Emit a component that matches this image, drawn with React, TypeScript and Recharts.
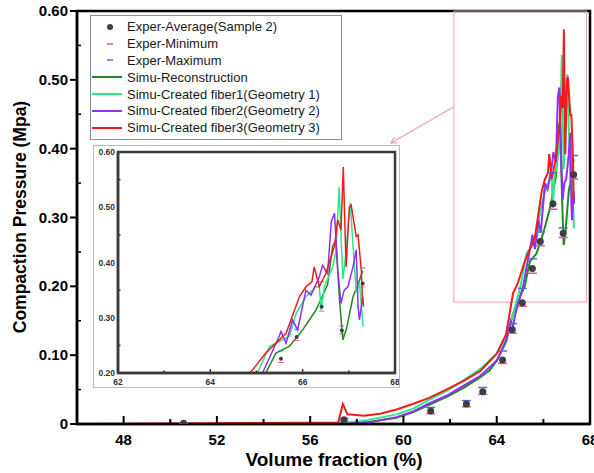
import React from "react";
import {
  ComposedChart, Line, Scatter, XAxis, YAxis, ReferenceArea, ReferenceLine, Legend,
} from "recharts";

const FONT = "'Liberation Sans', Arial, sans-serif";

// experimental points (sample 2)
const expX = [50.57, 57.45, 61.17, 62.7, 63.4, 64.25, 64.67, 65.1, 65.53, 65.87, 66.41, 66.85, 67.3];
const expAvg = [0.001, 0.006, 0.019, 0.029, 0.047, 0.093, 0.137, 0.176, 0.226, 0.265, 0.32, 0.277, 0.362];
const expMin = [0.0, 0.004, 0.015, 0.025, 0.043, 0.088, 0.132, 0.171, 0.219, 0.259, 0.312, 0.271, 0.356];
const expMax = [0.002, 0.008, 0.024, 0.034, 0.053, 0.106, 0.146, 0.197, 0.24, 0.279, 0.365, 0.285, 0.39];

// simulations
const reconX = [46.6, 57.0, 57.5, 58.5, 59.7, 60.4, 61.1, 61.9, 62.6, 63.3, 63.7, 64.0, 64.4, 64.7, 65.0, 65.2, 65.42, 65.71, 66.0, 66.29, 66.54, 66.65, 66.72, 66.8, 66.87, 66.95, 67.09, 67.2, 67.3];
const reconY = [0, 0, 0.001, 0.003, 0.009, 0.017, 0.028, 0.04, 0.053, 0.068, 0.078, 0.092, 0.12, 0.16, 0.185, 0.2, 0.236, 0.248, 0.278, 0.314, 0.36, 0.43, 0.44, 0.33, 0.26, 0.28, 0.338, 0.36, 0.385];

const fiber1X = [46.6, 57.0, 57.5, 58.5, 59.7, 60.4, 61.1, 61.9, 62.6, 63.3, 64.0, 64.4, 64.7, 65.02, 65.28, 65.42, 65.71, 65.86, 66.07, 66.29, 66.36, 66.4, 66.47, 66.65, 66.72, 66.79, 66.87, 66.92, 67.03, 67.16, 67.23, 67.31];
const fiber1Y = [0, 0, 0.002, 0.006, 0.014, 0.022, 0.035, 0.049, 0.064, 0.08, 0.102, 0.125, 0.16, 0.2, 0.248, 0.254, 0.266, 0.308, 0.338, 0.356, 0.356, 0.314, 0.356, 0.392, 0.42, 0.536, 0.37, 0.404, 0.508, 0.346, 0.362, 0.284];

const fiber2X = [46.6, 57.5, 58.5, 59.7, 60.4, 61.1, 61.9, 62.6, 63.3, 64.0, 64.4, 64.6, 64.7, 64.8, 65.13, 65.49, 65.53, 65.64, 65.78, 65.89, 66.07, 66.18, 66.36, 66.43, 66.54, 66.62, 66.69, 66.76, 66.83, 66.9, 66.98, 67.09, 67.16, 67.2, 67.23, 67.3, 67.32];
const fiber2Y = [0, 0, 0.002, 0.01, 0.018, 0.03, 0.042, 0.056, 0.07, 0.092, 0.12, 0.15, 0.142, 0.16, 0.2, 0.266, 0.275, 0.254, 0.296, 0.278, 0.35, 0.341, 0.374, 0.395, 0.38, 0.474, 0.489, 0.386, 0.326, 0.35, 0.356, 0.392, 0.423, 0.32, 0.296, 0.338, 0.32];

const fiber3X = [46.6, 57.2, 57.4, 57.6, 58.3, 59.0, 59.7, 60.4, 61.1, 61.9, 62.6, 63.3, 64.0, 64.4, 64.7, 64.91, 65.2, 65.64, 65.93, 66.07, 66.2, 66.25, 66.36, 66.5, 66.69, 66.76, 66.83, 66.88, 66.94, 67.01, 67.05, 67.16, 67.2, 67.27, 67.3];
const fiber3Y = [0, 0.002, 0.029, 0.014, 0.012, 0.015, 0.021, 0.029, 0.038, 0.051, 0.063, 0.077, 0.102, 0.13, 0.19, 0.205, 0.236, 0.272, 0.338, 0.356, 0.365, 0.392, 0.356, 0.38, 0.43, 0.477, 0.459, 0.573, 0.392, 0.5, 0.504, 0.447, 0.45, 0.386, 0.326];

const xTicks = [48, 50, 52, 54, 56, 58, 60, 62, 64, 66, 68];
const yTicks = [0, 0.05, 0.1, 0.15, 0.2, 0.25, 0.3, 0.35, 0.4, 0.45, 0.5, 0.55, 0.6];
const insetXTicks = [62, 63, 64, 65, 66, 67, 68];
const insetYTicks = [0.2, 0.25, 0.3, 0.35, 0.4, 0.45, 0.5, 0.55, 0.6];

const pts = (xs: number[], ys: number[]) => xs.map((x, i) => ({ x, y: ys[i] }));

const avgPts = pts(expX, expAvg);
const minPts = pts(expX, expMin);
const maxPts = pts(expX, expMax);

const SIM = [
  { name: "Simu-Reconstruction", color: "#1f8a22", data: pts(reconX, reconY) },
  { name: "Simu-Created fiber1(Geometry 1)", color: "#2ee58c", data: pts(fiber1X, fiber1Y) },
  { name: "Simu-Created fiber2(Geometry 2)", color: "#9030f0", data: pts(fiber2X, fiber2Y) },
  { name: "Simu-Created fiber3(Geometry 3)", color: "#ee1c1c", data: pts(fiber3X, fiber3Y) },
];

const MIN_COLOR = "#e2559e";
const MAX_COLOR = "#5b6ce2";
const DOT_COLOR = "#3f3f3f";
const PINK = "#f0a4ae";

const legendItems = [
  { name: "Exper-Average(Sample 2)", kind: "dot", color: DOT_COLOR },
  { name: "Exper-Minimum", kind: "dash", color: MIN_COLOR },
  { name: "Exper-Maximum", kind: "dash", color: MAX_COLOR },
  ...SIM.map((s) => ({ name: s.name, kind: "line", color: s.color })),
];

const renderLegend = () => (
  <div style={{ border: "1px solid #8c8c8c", background: "#fff", padding: "2.5px 8px 2.5px 0", fontFamily: FONT, fontSize: 13, color: "#1a1a1a" }}>
    {legendItems.map((it) => (
      <div key={it.name} style={{ display: "flex", alignItems: "center", height: 16.8 }}>
        <svg width={32} height={10}>
          {it.kind === "dot" && <circle cx={19} cy={5} r={3} fill={it.color} />}
          {it.kind === "dash" && <line x1={16} x2={22} y1={5} y2={5} stroke={it.color} strokeWidth={1.5} />}
          {it.kind === "line" && <line x1={1} x2={31} y1={5} y2={5} stroke={it.color} strokeWidth={2} />}
        </svg>
        <span style={{ marginLeft: 4, whiteSpace: "nowrap" }}>{it.name}</span>
      </div>
    ))}
  </div>
);

const capShape = (color: string, w: number, sw: number) => (p: any) => (
  <line x1={p.cx - w / 2} x2={p.cx + w / 2} y1={p.cy} y2={p.cy} stroke={color} strokeWidth={sw} />
);
const dotShape = (r: number) => (p: any) => <circle cx={p.cx} cy={p.cy} r={r} fill={DOT_COLOR} />;

const MainXTick = (props: any) => {
  const { x, y, payload } = props;
  const v = payload.value;
  const major = v % 4 === 0;
  return (
    <g>
      <line x1={x} x2={x} y1={y} y2={y - (major ? 8 : 5)} stroke="#000" strokeWidth={2} />
      {major && (
        <text x={x} y={y + 21} textAnchor="middle" fontSize={15} fontWeight="bold" fontFamily={FONT} fill="#000">{v}</text>
      )}
    </g>
  );
};

const MainYTick = (props: any) => {
  const { x, y, payload } = props;
  const v = payload.value;
  const major = Math.round(v * 100) % 10 === 0;
  return (
    <g>
      {major
        ? <line x1={x - 7} x2={x} y1={y} y2={y} stroke="#000" strokeWidth={2} />
        : <line x1={x} x2={x + 4} y1={y} y2={y} stroke="#000" strokeWidth={1.5} />}
      {major && (
        <text x={x - 9} y={y + 5} textAnchor="end" fontSize={15} fontWeight="bold" fontFamily={FONT} fill="#000">
          {v === 0 ? "0" : v.toFixed(2)}
        </text>
      )}
    </g>
  );
};

const InsetXTick = (props: any) => {
  const { x, y, payload } = props;
  const v = payload.value;
  const even = v % 2 === 0;
  return (
    <g>
      {v > 62 && v < 68 && <line x1={x} x2={x} y1={y} y2={y - (even ? 4 : 2.5)} stroke="#333" strokeWidth={1.5} />}
      {even && (
        <text x={x} y={y + 12} textAnchor="middle" fontSize={8.5} fontWeight="bold" fontFamily={FONT} fill="#333">{v}</text>
      )}
    </g>
  );
};

const InsetYTick = (props: any) => {
  const { x, y, payload } = props;
  const v = payload.value;
  const major = Math.round(v * 100) % 10 === 0;
  return (
    <g>
      {!major && <line x1={x} x2={x + 2.5} y1={y} y2={y} stroke="#333" strokeWidth={1.5} />}
      {major && (
        <text x={x - 3} y={y + 3} textAnchor="end" fontSize={8.5} fontWeight="bold" fontFamily={FONT} fill="#333">{v.toFixed(2)}</text>
      )}
    </g>
  );
};

const ArrowShape = (p: any) => {
  const { x1, y1, x2, y2 } = p;
  const a = Math.atan2(y1 - y2, x1 - x2);
  const L = 7;
  return (
    <g stroke={PINK} strokeWidth={1.2} fill="none">
      <line x1={x1} y1={y1} x2={x2} y2={y2} />
      <line x1={x2} y1={y2} x2={x2 + L * Math.cos(a + 0.45)} y2={y2 + L * Math.sin(a + 0.45)} />
      <line x1={x2} y1={y2} x2={x2 + L * Math.cos(a - 0.45)} y2={y2 + L * Math.sin(a - 0.45)} />
    </g>
  );
};

const Inset = () => (
  <div style={{ position: "absolute", left: 93, top: 145, width: 307, height: 243, border: `1px solid ${PINK}`, boxSizing: "border-box" }}>
    <ComposedChart width={305} height={241} margin={{ top: 6, right: 4, bottom: 0, left: 0 }}>
      <XAxis type="number" dataKey="x" domain={[62, 68]} ticks={insetXTicks} interval={0} allowDataOverflow
        tickSize={0} tickMargin={0} tickLine={false} axisLine={{ stroke: "#3a3a3a", strokeWidth: 2.5 }} tick={<InsetXTick />} height={14} />
      <YAxis type="number" domain={[0.2, 0.6]} ticks={insetYTicks} interval={0} allowDataOverflow
        tickSize={0} tickMargin={0} tickLine={false} axisLine={{ stroke: "#3a3a3a", strokeWidth: 2.5 }} tick={<InsetYTick />} width={24} />
      <ReferenceArea x1={62} x2={68} y1={0.2} y2={0.6} stroke="#3a3a3a" strokeWidth={2.5} fill="none" fillOpacity={0} />
      {SIM.map((s) => (
        <Line key={s.name} data={s.data} dataKey="y" type="linear" stroke={s.color} strokeWidth={1.5} dot={false} isAnimationActive={false} />
      ))}
      <Scatter data={maxPts} dataKey="y" shape={capShape(MAX_COLOR, 5, 1)} isAnimationActive={false} />
      <Scatter data={minPts} dataKey="y" shape={capShape(MIN_COLOR, 5, 1)} isAnimationActive={false} />
      <Scatter data={avgPts} dataKey="y" shape={dotShape(2)} isAnimationActive={false} />
    </ComposedChart>
  </div>
);

export default function App() {
  return (
    <div style={{ position: "absolute", left: 0, top: 0, width: 594, height: 473, background: "#fff" }}>
      <ComposedChart width={594} height={473} margin={{ top: 11, right: 4, bottom: 0, left: 0 }}>
        <XAxis type="number" dataKey="x" domain={[46, 68]} ticks={xTicks} interval={0} allowDataOverflow
          tickSize={0} tickMargin={0} tickLine={false} axisLine={{ stroke: "#000", strokeWidth: 2.5 }} tick={<MainXTick />} height={49} />
        <YAxis type="number" domain={[0, 0.6]} ticks={yTicks} interval={0} allowDataOverflow
          tickSize={0} tickMargin={0} tickLine={false} axisLine={{ stroke: "#000", strokeWidth: 2.5 }} tick={<MainYTick />} width={77} />
        <ReferenceArea x1={46} x2={68} y1={0} y2={0.6} stroke="#000" strokeWidth={2.5} fill="none" fillOpacity={0} />
        <ReferenceArea x1={62.16} x2={67.85} y1={0.177} y2={0.6} stroke={PINK} strokeWidth={1} fill="none" fillOpacity={0} />
        <ReferenceLine segment={[{ x: 62.16, y: 0.461 }, { x: 59.45, y: 0.408 }]} shape={ArrowShape} />
        {SIM.map((s) => (
          <Line key={s.name} data={s.data} dataKey="y" type="linear" stroke={s.color} strokeWidth={2} dot={false} isAnimationActive={false} />
        ))}
        <Scatter data={maxPts} dataKey="y" shape={capShape(MAX_COLOR, 9, 1.5)} isAnimationActive={false} />
        <Scatter data={minPts} dataKey="y" shape={capShape(MIN_COLOR, 9, 1.5)} isAnimationActive={false} />
        <Scatter data={avgPts} dataKey="y" shape={dotShape(3.5)} isAnimationActive={false} />
        <Legend layout="vertical" align="center" verticalAlign="middle" content={renderLegend}
          wrapperStyle={{ left: 90, top: 15, width: 252, height: "auto" }} />
      </ComposedChart>
      <svg width={594} height={473} style={{ position: "absolute", left: 0, top: 0, pointerEvents: "none" }}>
        <text x={334} y={466} textAnchor="middle" fontSize={19} fontWeight="bold" fontFamily={FONT} fill="#000">Volume fraction (%)</text>
        <text x={0} y={0} transform="translate(26 217) rotate(-90)" textAnchor="middle" fontSize={17.5} fontWeight="bold" fontFamily={FONT} fill="#000">Compaction Pressure (Mpa)</text>
      </svg>
      <Inset />
    </div>
  );
}
